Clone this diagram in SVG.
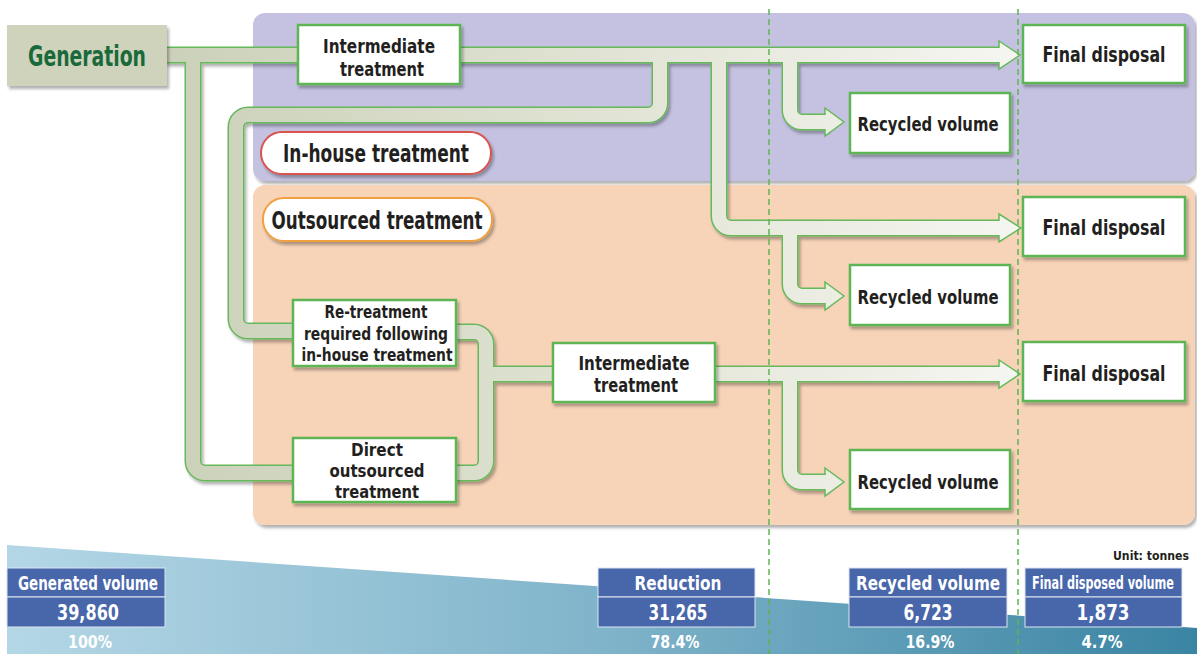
<svg xmlns="http://www.w3.org/2000/svg" width="1197" height="654" viewBox="0 0 1197 654">
<defs>
 <linearGradient id="pipeGrad" gradientUnits="userSpaceOnUse" x1="170" y1="0" x2="1020" y2="0">
  <stop offset="0" stop-color="#cbd1b9"/>
  <stop offset="0.5" stop-color="#e0e3d3"/>
  <stop offset="1" stop-color="#f5f6f1"/>
 </linearGradient>
 <linearGradient id="bandGrad" x1="0" y1="0" x2="1" y2="0">
  <stop offset="0" stop-color="#b4d7e6"/>
  <stop offset="0.5" stop-color="#80b4ca"/>
  <stop offset="1" stop-color="#3a84a3"/>
 </linearGradient>
 <filter id="sh" x="-10%" y="-10%" width="130%" height="140%">
  <feDropShadow dx="2" dy="3" stdDeviation="1.5" flood-color="#000" flood-opacity="0.3"/>
 </filter>
</defs>
<style>
 .pipeO{fill:none;stroke:#66b95a;stroke-width:17}
 .pipeI{fill:none;stroke:url(#pipeGrad);stroke-width:14}
 .head{fill:url(#pipeGrad);stroke:#66b95a;stroke-width:1.5;stroke-linejoin:miter}
 .box{fill:#fff;stroke:#5db553;stroke-width:2.5}
 .t{font-family:"Liberation Sans Narrow","DejaVu Sans Condensed","Liberation Sans",sans-serif;font-weight:bold;fill:#231f20;text-anchor:middle}
 .w{fill:#fff}
 .vol{fill:#4866aa;stroke:#dce5f1;stroke-width:1}
 .dash{stroke:#5db553;stroke-width:1.5;stroke-dasharray:6 4;fill:none}
</style>

<g id="panels">
 <rect x="253" y="13" width="942" height="168" rx="12" fill="#c4c2e0" filter="url(#sh)"/>
 <rect x="253" y="185" width="942" height="340" rx="12" fill="#f7d3b8" filter="url(#sh)"/>
</g>

<polygon id="band" points="7,545 1197,628 1197,654 7,654" fill="url(#bandGrad)"/>

<g id="connectors">
 <g class="pipeO" filter="url(#sh)">
  <path d="M165 55 H1001"/>
  <path d="M660 55 V103 A12 12 0 0 1 648 115 H248 A12 12 0 0 0 236 127 V319 A12 12 0 0 0 248 331 H294"/>
  <path d="M193 55 V461 A12 12 0 0 0 205 473 H294"/>
  <path d="M719 55 V216 A12 12 0 0 0 731 228 H1001"/>
  <path d="M790 55 V110 A12 12 0 0 0 802 122 H827"/>
  <path d="M790 228 V284 A12 12 0 0 0 802 296 H827"/>
  <path d="M715 374 H1001"/>
  <path d="M790 374 V470 A12 12 0 0 0 802 482 H827"/>
  <path d="M455 332 H474 A12 12 0 0 1 486 344 V461 A12 12 0 0 1 474 473 H455"/>
  <path d="M486 374 H553"/>
 </g>
 <polygon class="head" points="999,41 1020,55 999,69"/>
 <polygon class="head" points="999,214 1021,228 999,242"/>
 <polygon class="head" points="999,360 1020,374 999,388"/>
 <polygon class="head" points="825,108 844,122 825,136"/>
 <polygon class="head" points="825,282 844,296 825,310"/>
 <polygon class="head" points="825,468 844,482 825,496"/>
 <g class="pipeI">
  <path d="M165 55 H1001"/>
  <path d="M660 55 V103 A12 12 0 0 1 648 115 H248 A12 12 0 0 0 236 127 V319 A12 12 0 0 0 248 331 H294"/>
  <path d="M193 55 V461 A12 12 0 0 0 205 473 H294"/>
  <path d="M719 55 V216 A12 12 0 0 0 731 228 H1001"/>
  <path d="M790 55 V110 A12 12 0 0 0 802 122 H827"/>
  <path d="M790 228 V284 A12 12 0 0 0 802 296 H827"/>
  <path d="M715 374 H1001"/>
  <path d="M790 374 V470 A12 12 0 0 0 802 482 H827"/>
  <path d="M455 332 H474 A12 12 0 0 1 486 344 V461 A12 12 0 0 1 474 473 H455"/>
  <path d="M486 374 H553"/>
 </g>
</g>

<g id="guides">
 <line class="dash" x1="769" y1="9" x2="769" y2="654"/>
 <line class="dash" x1="1018" y1="9" x2="1018" y2="654"/>
</g>

<g id="generation">
 <rect x="7" y="25" width="160" height="61" fill="#cfd3bb" filter="url(#sh)"/>
 <text class="t" x="87" y="66" font-size="28" style="fill:#19693b" textLength="118" lengthAdjust="spacingAndGlyphs">Generation</text>
</g>

<g id="intermediate1">
 <rect class="box" x="298" y="25" width="162" height="59" filter="url(#sh)"/>
 <text class="t" x="379" y="53" font-size="20" textLength="112" lengthAdjust="spacingAndGlyphs">Intermediate</text>
 <text class="t" x="382" y="76" font-size="20" textLength="84" lengthAdjust="spacingAndGlyphs">treatment</text>
</g>

<g id="final1">
 <rect class="box" x="1023" y="25" width="162" height="58" filter="url(#sh)"/>
 <text class="t" x="1104" y="62" font-size="21" textLength="123" lengthAdjust="spacingAndGlyphs">Final disposal</text>
</g>

<g id="recycled1">
 <rect class="box" x="850" y="93" width="160" height="60" filter="url(#sh)"/>
 <text class="t" x="928" y="131" font-size="20" textLength="141" lengthAdjust="spacingAndGlyphs">Recycled volume</text>
</g>

<g id="inhouse">
 <rect x="261" y="132" width="230" height="42" rx="21" fill="#fff" stroke="#d9534f" stroke-width="2" filter="url(#sh)"/>
 <text class="t" x="376" y="162" font-size="25" textLength="186" lengthAdjust="spacingAndGlyphs">In-house treatment</text>
</g>

<g id="outsourced">
 <rect x="263" y="198" width="229" height="43" rx="21" fill="#fff" stroke="#f0a040" stroke-width="2" filter="url(#sh)"/>
 <text class="t" x="377" y="229" font-size="25" textLength="211" lengthAdjust="spacingAndGlyphs">Outsourced treatment</text>
</g>

<g id="final2">
 <rect class="box" x="1023" y="197" width="162" height="59" filter="url(#sh)"/>
 <text class="t" x="1104" y="235" font-size="21" textLength="123" lengthAdjust="spacingAndGlyphs">Final disposal</text>
</g>

<g id="recycled2">
 <rect class="box" x="850" y="265" width="160" height="60" filter="url(#sh)"/>
 <text class="t" x="928" y="304" font-size="20" textLength="141" lengthAdjust="spacingAndGlyphs">Recycled volume</text>
</g>

<g id="retreatment">
 <rect class="box" x="293" y="300" width="163" height="66" filter="url(#sh)"/>
 <text class="t" x="376" y="318" font-size="18" textLength="103" lengthAdjust="spacingAndGlyphs">Re-treatment</text>
 <text class="t" x="376" y="340" font-size="18" textLength="144" lengthAdjust="spacingAndGlyphs">required following</text>
 <text class="t" x="377" y="361" font-size="18" textLength="151" lengthAdjust="spacingAndGlyphs">in-house treatment</text>
</g>

<g id="intermediate2">
 <rect class="box" x="553" y="343" width="162" height="59" filter="url(#sh)"/>
 <text class="t" x="634" y="370" font-size="20" textLength="111" lengthAdjust="spacingAndGlyphs">Intermediate</text>
 <text class="t" x="636" y="392" font-size="20" textLength="84" lengthAdjust="spacingAndGlyphs">treatment</text>
</g>

<g id="final3">
 <rect class="box" x="1023" y="342" width="162" height="59" filter="url(#sh)"/>
 <text class="t" x="1104" y="381" font-size="21" textLength="123" lengthAdjust="spacingAndGlyphs">Final disposal</text>
</g>

<g id="direct">
 <rect class="box" x="293" y="438" width="163" height="64" filter="url(#sh)"/>
 <text class="t" x="377" y="456" font-size="18" textLength="52" lengthAdjust="spacingAndGlyphs">Direct</text>
 <text class="t" x="377" y="477" font-size="18" textLength="95" lengthAdjust="spacingAndGlyphs">outsourced</text>
 <text class="t" x="377" y="498" font-size="18" textLength="84" lengthAdjust="spacingAndGlyphs">treatment</text>
</g>

<g id="recycled3">
 <rect class="box" x="850" y="450" width="160" height="59" filter="url(#sh)"/>
 <text class="t" x="928" y="489" font-size="20" textLength="141" lengthAdjust="spacingAndGlyphs">Recycled volume</text>
</g>

<text class="t" x="1189" y="560" font-size="13" style="text-anchor:end" textLength="76" lengthAdjust="spacingAndGlyphs">Unit: tonnes</text>

<g id="generated-volume">
 <rect class="vol" x="7" y="568" width="158" height="29"/>
 <rect class="vol" x="7" y="597" width="158" height="30"/>
 <text class="t w" x="88" y="590" font-size="19" textLength="140" lengthAdjust="spacingAndGlyphs">Generated volume</text>
 <text class="t w" x="88" y="620" font-size="22" textLength="62" lengthAdjust="spacingAndGlyphs">39,860</text>
 <text class="t w" x="90" y="648" font-size="18" textLength="44" lengthAdjust="spacingAndGlyphs">100%</text>
</g>

<g id="reduction">
 <rect class="vol" x="598" y="568" width="157" height="29"/>
 <rect class="vol" x="598" y="597" width="157" height="30"/>
 <text class="t w" x="678" y="590" font-size="19" textLength="87" lengthAdjust="spacingAndGlyphs">Reduction</text>
 <text class="t w" x="678" y="620" font-size="22" textLength="59" lengthAdjust="spacingAndGlyphs">31,265</text>
 <text class="t w" x="675" y="648" font-size="18" textLength="49" lengthAdjust="spacingAndGlyphs">78.4%</text>
</g>

<g id="recycled-volume">
 <rect class="vol" x="849" y="568" width="158" height="29"/>
 <rect class="vol" x="849" y="597" width="158" height="30"/>
 <text class="t w" x="928" y="590" font-size="19" textLength="144" lengthAdjust="spacingAndGlyphs">Recycled volume</text>
 <text class="t w" x="928" y="620" font-size="22" textLength="49" lengthAdjust="spacingAndGlyphs">6,723</text>
 <text class="t w" x="930" y="648" font-size="18" textLength="49" lengthAdjust="spacingAndGlyphs">16.9%</text>
</g>

<g id="final-disposed-volume">
 <rect class="vol" x="1025" y="568" width="157" height="29"/>
 <rect class="vol" x="1025" y="597" width="157" height="30"/>
 <text class="t w" x="1103" y="589" font-size="17" textLength="142" lengthAdjust="spacingAndGlyphs">Final disposed volume</text>
 <text class="t w" x="1103" y="620" font-size="22" textLength="53" lengthAdjust="spacingAndGlyphs">1,873</text>
 <text class="t w" x="1102" y="648" font-size="18" textLength="41" lengthAdjust="spacingAndGlyphs">4.7%</text>
</g>
</svg>
